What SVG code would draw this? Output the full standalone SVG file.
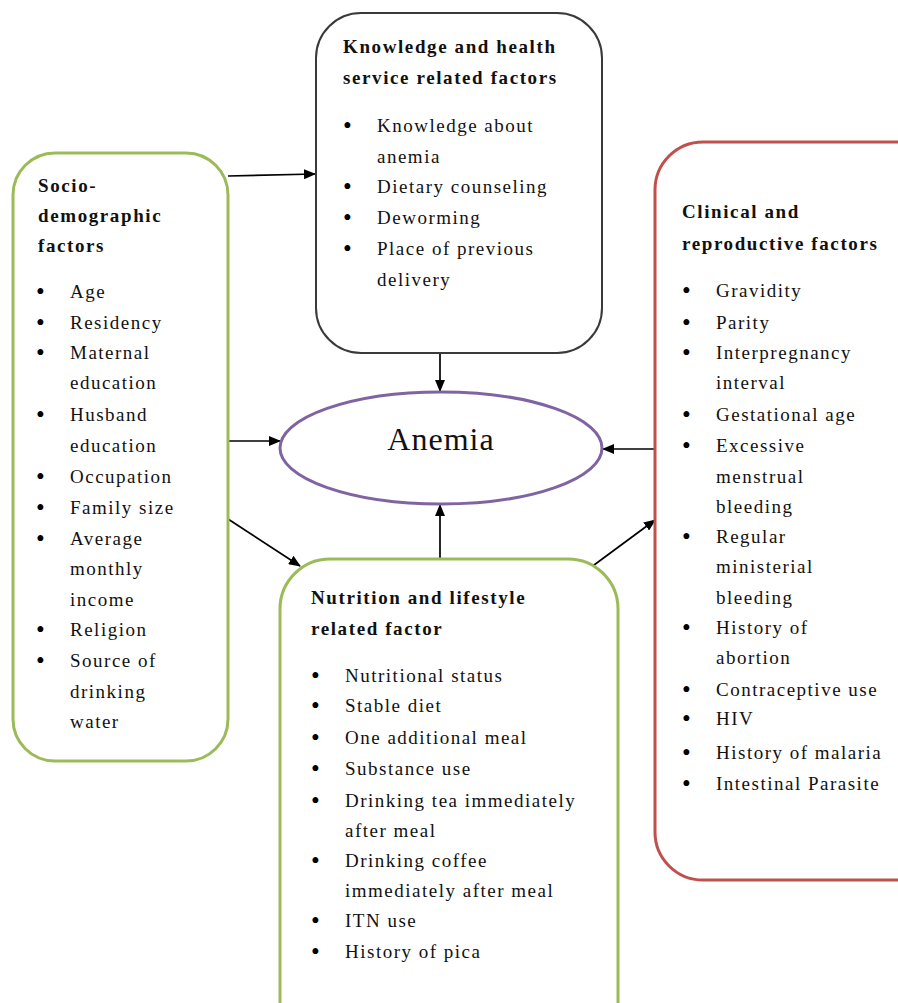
<svg xmlns="http://www.w3.org/2000/svg" width="898" height="1003" viewBox="0 0 898 1003">
<defs>
<marker id="ah" markerWidth="12" markerHeight="10" refX="11" refY="5" orient="auto" markerUnits="userSpaceOnUse">
<path d="M0,0 L12,5 L0,10 Z" fill="#000"/>
</marker>
<style>
.box{fill:#fff;stroke-width:3}
.g{stroke:#9bbb59}
.r{stroke:#c0504d}
.k{stroke:#3a3a3a;stroke-width:2}
text{font-family:"Liberation Serif","Times New Roman",serif;font-size:19px;fill:#111;letter-spacing:1.5px}
.t{font-weight:bold;letter-spacing:1.6px}
.b{letter-spacing:0;font-size:25px;fill:#000}
.c{stroke:#000;stroke-width:1.7;fill:none;marker-end:url(#ah)}
</style>
</defs>
<rect width="898" height="1003" fill="#fff"/>

<g id="connectors">
<line class="c" x1="228" y1="176" x2="315" y2="174"/>
<line class="c" x1="228" y1="441" x2="280" y2="441"/>
<line class="c" x1="228" y1="519" x2="300" y2="566"/>
<line class="c" x1="440" y1="353" x2="440" y2="391"/>
<line class="c" x1="440" y1="558" x2="440" y2="505"/>
<line class="c" x1="655" y1="449" x2="603" y2="449"/>
<line class="c" x1="590" y1="568" x2="655" y2="520"/>
</g>

<g id="socio">
<rect class="box g" x="13" y="153" width="215" height="608" rx="42"/>
<text class="t" x="38" y="192">Socio-</text>
<text class="t" x="38" y="222">demographic</text>
<text class="t" x="38" y="252">factors</text>
<g>
<text class="b" x="36" y="300">•</text><text x="70" y="298">Age</text>
<text class="b" x="36" y="331">•</text><text x="70" y="329">Residency</text>
<text class="b" x="36" y="361">•</text><text x="70" y="359">Maternal</text>
<text x="70" y="389">education</text>
<text class="b" x="36" y="423">•</text><text x="70" y="421">Husband</text>
<text x="70" y="452">education</text>
<text class="b" x="36" y="485">•</text><text x="70" y="483">Occupation</text>
<text class="b" x="36" y="516">•</text><text x="70" y="514">Family size</text>
<text class="b" x="36" y="547">•</text><text x="70" y="545">Average</text>
<text x="70" y="575">monthly</text>
<text x="70" y="606">income</text>
<text class="b" x="36" y="638">•</text><text x="70" y="636">Religion</text>
<text class="b" x="36" y="669">•</text><text x="70" y="667">Source of</text>
<text x="70" y="698">drinking</text>
<text x="70" y="728">water</text>
</g>
</g>

<g id="knowledge">
<rect class="box k" x="316" y="13" width="286" height="340" rx="45"/>
<text class="t" x="343" y="53">Knowledge and health</text>
<text class="t" x="343" y="84">service related factors</text>
<text class="b" x="343" y="134">•</text><text x="377" y="132">Knowledge about</text>
<text x="377" y="163">anemia</text>
<text class="b" x="343" y="195">•</text><text x="377" y="193">Dietary counseling</text>
<text class="b" x="343" y="226">•</text><text x="377" y="224">Deworming</text>
<text class="b" x="343" y="257">•</text><text x="377" y="255">Place of previous</text>
<text x="377" y="286">delivery</text>
</g>

<g id="anemia">
<ellipse cx="441" cy="448" rx="161" ry="56" fill="#fff" stroke="#8064a2" stroke-width="3"/>
<text x="441" y="450" text-anchor="middle" style="font-size:32px;letter-spacing:1px">Anemia</text>
</g>

<g id="clinical">
<rect class="box r" x="655" y="142" width="290" height="738" rx="48"/>
<text class="t" x="682" y="218">Clinical and</text>
<text class="t" x="682" y="250">reproductive factors</text>
<text class="b" x="682" y="299">•</text><text x="716" y="297">Gravidity</text>
<text class="b" x="682" y="331">•</text><text x="716" y="329">Parity</text>
<text class="b" x="682" y="361">•</text><text x="716" y="359">Interpregnancy</text>
<text x="716" y="389">interval</text>
<text class="b" x="682" y="423">•</text><text x="716" y="421">Gestational age</text>
<text class="b" x="682" y="454">•</text><text x="716" y="452">Excessive</text>
<text x="716" y="483">menstrual</text>
<text x="716" y="513">bleeding</text>
<text class="b" x="682" y="545">•</text><text x="716" y="543">Regular</text>
<text x="716" y="573">ministerial</text>
<text x="716" y="604">bleeding</text>
<text class="b" x="682" y="636">•</text><text x="716" y="634">History of</text>
<text x="716" y="664">abortion</text>
<text class="b" x="682" y="698">•</text><text x="716" y="696">Contraceptive use</text>
<text class="b" x="682" y="727">•</text><text x="716" y="725">HIV</text>
<text class="b" x="682" y="761">•</text><text x="716" y="759">History of malaria</text>
<text class="b" x="682" y="792">•</text><text x="716" y="790">Intestinal Parasite</text>
</g>

<g id="nutrition">
<rect class="box g" x="280" y="559" width="338" height="500" rx="50"/>
<text class="t" x="311" y="604">Nutrition and lifestyle</text>
<text class="t" x="311" y="635">related factor</text>
<text class="b" x="311" y="684">•</text><text x="345" y="682">Nutritional status</text>
<text class="b" x="311" y="714">•</text><text x="345" y="712">Stable diet</text>
<text class="b" x="311" y="746">•</text><text x="345" y="744">One additional meal</text>
<text class="b" x="311" y="777">•</text><text x="345" y="775">Substance use</text>
<text class="b" x="311" y="809">•</text><text x="345" y="807">Drinking tea immediately</text>
<text x="345" y="837">after meal</text>
<text class="b" x="311" y="869">•</text><text x="345" y="867">Drinking coffee</text>
<text x="345" y="897">immediately after meal</text>
<text class="b" x="311" y="929">•</text><text x="345" y="927">ITN use</text>
<text class="b" x="311" y="960">•</text><text x="345" y="958">History of pica</text>
</g>
</svg>
